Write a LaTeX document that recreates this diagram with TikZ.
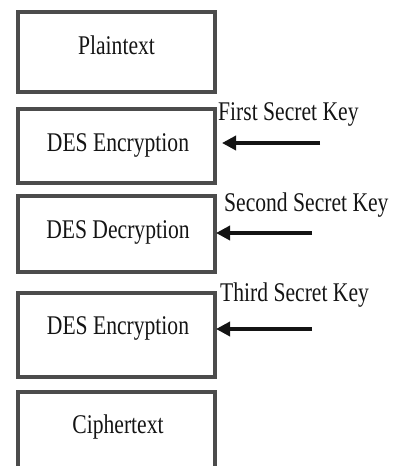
\documentclass[tikz,border=0pt]{standalone}
\usepackage{fontspec}
\setmainfont[FakeStretch=0.8]{Liberation Serif}
\usetikzlibrary{arrows.meta}
\definecolor{edge}{gray}{0.3}
\definecolor{ink}{gray}{0.08}
\begin{document}
\begin{tikzpicture}[x=1pt,y=-1pt,
  stage/.style={draw=edge,line width=3.2pt,minimum width=197pt,inner sep=0pt},
  stagetext/.style={text=ink,font=\fontsize{27}{29}\selectfont,inner sep=0pt},
  keytext/.style={text=ink,font=\fontsize{27}{29}\selectfont,inner sep=0pt,anchor=west},
  keyarrow/.style={draw=ink,line width=3.4pt,-{Triangle[length=14pt,width=14pt]}}]
\useasboundingbox (0,0) rectangle (399,466);
\begin{scope}
\clip (0,0) rectangle (399,466);
% stacked processing stages
\node[stage,minimum height=80pt] (plain) at (116.5,52) {};
\node[stage,minimum height=74pt] (enc1) at (116.5,146) {};
\node[stage,minimum height=76pt] (dec) at (116.5,234) {};
\node[stage,minimum height=84pt] (enc2) at (116.5,335) {};
\node[stage,minimum height=90pt] (cipher) at (116.5,437) {};
% stage captions
\node[stagetext] (tplain) at (116.5,45) {Plaintext};
\node[stagetext] (tenc1) at (118,145) {DES Encryption};
\node[stagetext] (tdec) at (118,232) {DES Decryption};
\node[stagetext] (tenc2) at (118,328) {DES Encryption};
\node[stagetext] (tcipher) at (118,427) {Ciphertext};
% key inputs
\node[keytext] (k1) at (218,114) {First Secret Key};
\node[keytext] (k2) at (224,205) {Second Secret Key};
\node[keytext] (k3) at (220,295) {Third Secret Key};
\coordinate (k1s) at (320,143);
\coordinate (k1e) at (222,143);
\coordinate (k2s) at (312,233);
\coordinate (k2e) at (216,233);
\coordinate (k3s) at (312,329);
\coordinate (k3e) at (216,329);
\draw[keyarrow] (k1s) -- (k1e);
\draw[keyarrow] (k2s) -- (k2e);
\draw[keyarrow] (k3s) -- (k3e);
\end{scope}
\end{tikzpicture}
\end{document}
